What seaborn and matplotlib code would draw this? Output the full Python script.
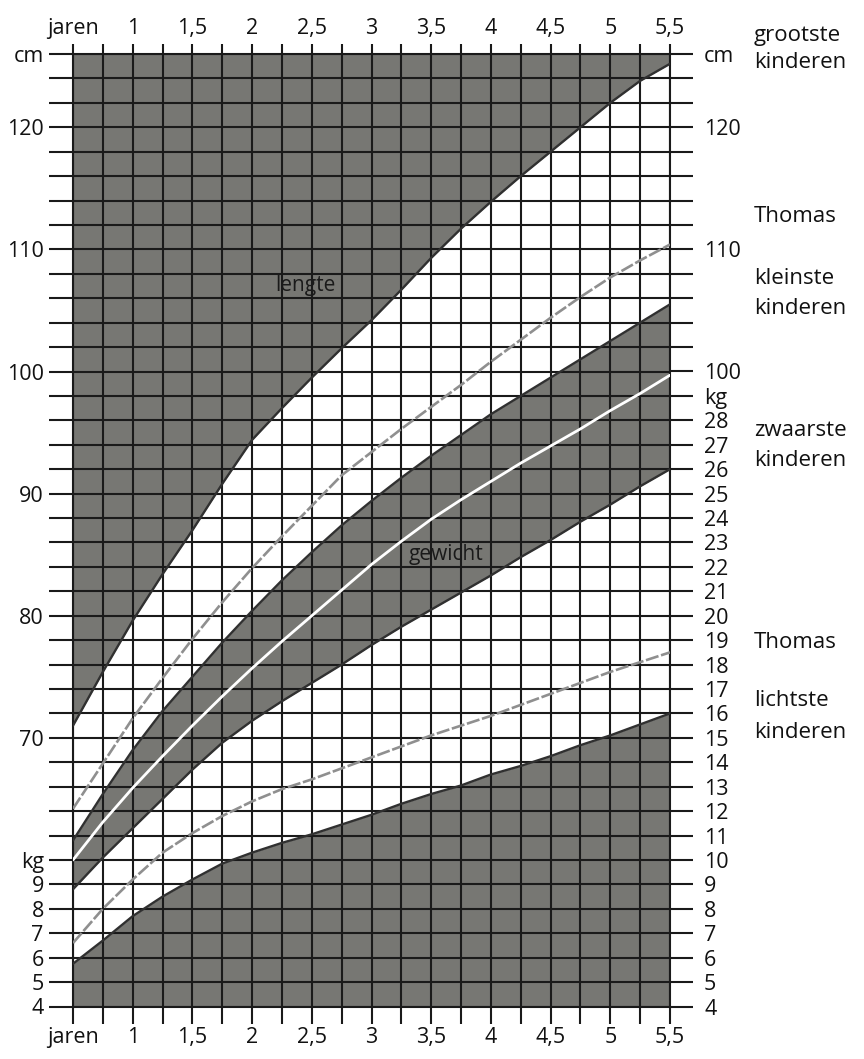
import numpy as np
import pandas as pd
import matplotlib
matplotlib.use("Agg")
import matplotlib.pyplot as plt
import seaborn as sns

# ---------------- data ----------------
ages = [0.5, 0.75, 1.0, 1.25, 1.5, 1.75, 2.0, 2.25, 2.5, 2.75, 3.0,
        3.25, 3.5, 3.75, 4.0, 4.25, 4.5, 4.75, 5.0, 5.25, 5.5]

# length curves (cm)
grootste_cm = [71.0, 75.4, 79.6, 83.4, 87.0, 90.8, 94.4, 97.0, 99.5, 101.9, 104.2,
               106.7, 109.3, 111.7, 113.9, 116.0, 118.0, 120.0, 122.0, 123.8, 125.2]
thomas_cm = [64.2, 67.9, 71.6, 74.9, 78.1, 81.1, 83.9, 86.5, 89.0, 91.5, 93.4,
             95.3, 97.1, 98.9, 100.8, 102.6, 104.4, 106.1, 107.7, 109.1, 110.4]
kleinste_cm = [61.6, 65.4, 69.0, 72.2, 75.0, 77.8, 80.4, 82.9, 85.2, 87.4, 89.4,
               91.3, 93.1, 94.8, 96.5, 98.0, 99.5, 101.0, 102.5, 104.0, 105.5]

# weight curves (kg)
zwaarste_kg = [8.8, 10.1, 11.3, 12.5, 13.7, 14.8, 15.7, 16.5, 17.25, 18.0, 18.8,
               19.55, 20.25, 20.95, 21.65, 22.4, 23.1, 23.85, 24.55, 25.3, 26.0]
witte_lijn_kg = [10.0, 11.55, 12.95, 14.25, 15.5, 16.7, 17.85, 18.95, 20.0, 21.05, 22.1,
                 23.05, 23.95, 24.75, 25.5, 26.25, 26.95, 27.65, 28.4, 29.1, 29.85]
thomas_kg = [6.6, 8.0, 9.2, 10.3, 11.1, 11.8, 12.4, 12.9, 13.3, 13.75, 14.2,
             14.65, 15.1, 15.5, 15.9, 16.35, 16.8, 17.25, 17.7, 18.1, 18.5]
lichtste_kg = [5.75, 6.7, 7.7, 8.5, 9.2, 9.85, 10.3, 10.7, 11.05, 11.45, 11.85,
               12.3, 12.7, 13.05, 13.5, 13.85, 14.25, 14.7, 15.1, 15.55, 16.0]

# axis ticks / labels
x_ticks = [0.5, 0.75, 1.0, 1.25, 1.5, 1.75, 2.0, 2.25, 2.5, 2.75, 3.0,
           3.25, 3.5, 3.75, 4.0, 4.25, 4.5, 4.75, 5.0, 5.25, 5.5]
x_labels = ["jaren", "", "1", "", "1,5", "", "2", "", "2,5", "", "3",
            "", "3,5", "", "4", "", "4,5", "", "5", "", "5,5"]
y_ticks_cm = list(range(48, 127, 2))          # every grid line (2 cm = 1 kg)
left_labels = {126: "cm", 120: "120", 110: "110", 100: "100", 90: "90",
               80: "80", 70: "70", 60: "kg", 58: "9", 56: "8", 54: "7",
               52: "6", 50: "5", 48: "4"}
right_labels = {126: "cm", 120: "120", 110: "110", 100: "100", 98: "kg"}
right_kg_labels = list(range(4, 29))

side_texts = [("grootste", 35), ("kinderen", 63), ("Thomas", 217),
              ("kleinste", 278), ("kinderen", 308), ("zwaarste", 430),
              ("kinderen", 460), ("Thomas", 642), ("lichtste", 700),
              ("kinderen", 732)]


def kg_as_cm(kg):
    """The chart shares one grid: 1 kg per line on the weight scale,
    2 cm per line on the length scale (10 kg sits on 60 cm)."""
    return 40 + 2 * np.asarray(kg, dtype=float)


for k in right_kg_labels:
    right_labels[int(kg_as_cm(k))] = str(k)

# ---------------- style ----------------
sns.set_theme(style="white")
plt.rcParams["font.family"] = ["Open Sans", "DejaVu Sans"]

GRID = "#1a1a1a"
FILL = "#777773"
EDGE = "#303030"
DASH = "#8f8f8f"
TXT = "#111111"
TICK_FS = 15.5

W, H = 864, 1059
fig = plt.figure(figsize=(W / 100, H / 100), dpi=100)
fig.patch.set_facecolor("white")
ax_left, ax_right, ax_top, ax_bot = 73, 670, 54, 1006.5
ax = fig.add_axes([ax_left / W, 1 - ax_bot / H,
                   (ax_right - ax_left) / W, (ax_bot - ax_top) / H])
ax.set_facecolor("white")

df = pd.DataFrame({
    "age": ages,
    "grootste": grootste_cm,
    "thomas_len": thomas_cm,
    "kleinste": kleinste_cm,
    "zwaarste": kg_as_cm(zwaarste_kg),
    "wit": kg_as_cm(witte_lijn_kg),
    "thomas_kg": kg_as_cm(thomas_kg),
    "lichtste": kg_as_cm(lichtste_kg),
})

ax.set_xlim(0.5, 5.5)
ax.set_ylim(48, 126)

# dark regions
ax.fill_between(df["age"], df["grootste"], 126, color=FILL, lw=0, zorder=1)
ax.fill_between(df["age"], df["zwaarste"], df["kleinste"], color=FILL, lw=0, zorder=1)
ax.fill_between(df["age"], 48, df["lichtste"], color=FILL, lw=0, zorder=1)

# curves
for col in ["grootste", "kleinste", "zwaarste", "lichtste"]:
    sns.lineplot(data=df, x="age", y=col, ax=ax, color=EDGE, lw=1.7, zorder=3)
for col in ["thomas_len", "thomas_kg"]:
    sns.lineplot(data=df, x="age", y=col, ax=ax, color=DASH, lw=1.9,
                 linestyle=(0, (5, 1.0)), zorder=3)
sns.lineplot(data=df, x="age", y="wit", ax=ax, color="white", lw=2.0, zorder=3)

# grid
ax.set_axisbelow(False)
ax.set_xticks(x_ticks)
ax.set_yticks(y_ticks_cm)
ax.grid(True, color=GRID, lw=1.5)
for s in ax.spines.values():
    s.set_visible(True)
    s.set_color(GRID)
    s.set_linewidth(1.5)

ax.set_xlabel("")
ax.set_ylabel("")
ax.set_xticklabels(x_labels)
ax.set_yticklabels([left_labels.get(t, "") for t in y_ticks_cm])
ax.tick_params(axis="x", bottom=True, top=False, length=12, width=1.5,
               color=GRID, direction="out", labelsize=TICK_FS, pad=3, labelcolor=TXT)
ax.tick_params(axis="y", left=True, right=False, length=17, width=1.5,
               color=GRID, direction="out", labelsize=TICK_FS, pad=4, labelcolor=TXT)

sec_top = ax.secondary_xaxis("top")
sec_top.set_xticks(x_ticks)
sec_top.set_xticklabels(x_labels)
sec_top.tick_params(length=7.5, width=1.5, color=GRID, direction="out",
                    labelsize=TICK_FS, pad=3, labelcolor=TXT)
for s in sec_top.spines.values():
    s.set_visible(False)

sec_right = ax.secondary_yaxis("right")
sec_right.set_yticks(y_ticks_cm)
sec_right.set_yticklabels([right_labels.get(t, "") for t in y_ticks_cm])
sec_right.tick_params(length=16.5, width=1.5, color=GRID, direction="out",
                      labelsize=TICK_FS, pad=8, labelcolor=TXT)
for s in sec_right.spines.values():
    s.set_visible(False)

# in-chart labels
ax.text(2.45, 106.2, "lengte", fontsize=15, color="#1a1a1a",
        ha="center", va="bottom", zorder=4)
ax.text(3.62, 84.15, "gewicht", fontsize=15, color="#1a1a1a",
        ha="center", va="bottom", zorder=4)

# side legend texts
for txt, py in side_texts:
    fig.text(754 / W, 1 - py / H, txt, fontsize=16, color=TXT,
             ha="left", va="center")

fig.savefig("out.png", dpi=100, facecolor="white")
